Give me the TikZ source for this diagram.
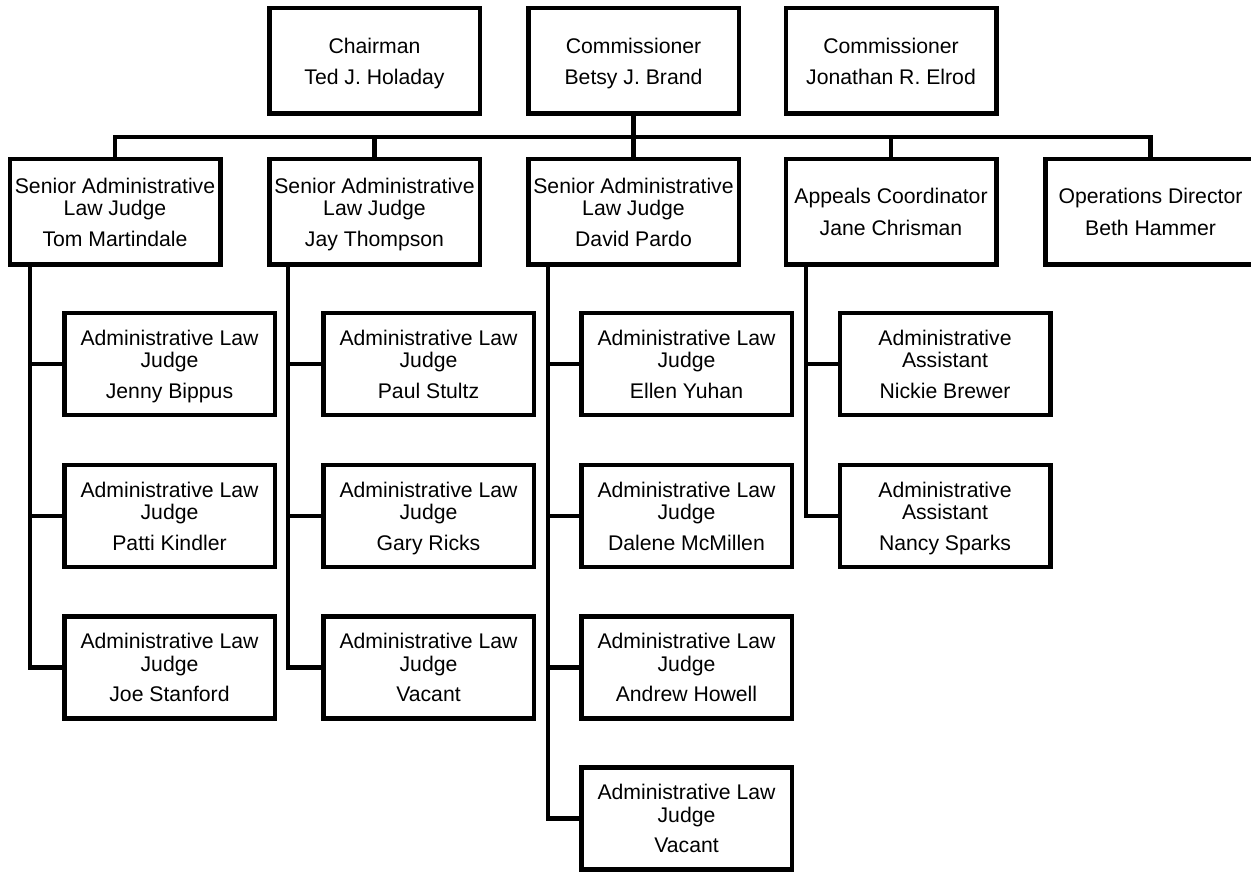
\documentclass[tikz,border=0pt]{standalone}
\usepackage{fontspec}
\setmainfont{Liberation Sans}
\begin{document}
\begin{tikzpicture}[x=1pt,y=-1pt,
  box/.style={draw, line width=4.5pt, minimum width=210.5pt, minimum height=105.5pt,
    inner sep=0pt, align=center, font=\fontsize{21.2}{22.5}\selectfont, text depth=0pt},
  cbox/.style={box, minimum height=102pt},
  link/.style={line width=4.5pt}]
\useasboundingbox (0,0) rectangle (1251,874);

% top row
\node[box] (chair) at (374.5,61) {Chairman\\[8.5pt]Ted J. Holaday};
\node[box] (betsy) at (633.5,61) {Commissioner\\[8.5pt]Betsy J. Brand};
\node[box] (jon)   at (891,61)   {Commissioner\\[8.5pt]Jonathan R. Elrod};

% second row
\node[box] (tom)   at (115,212)   {Senior Administrative\\Law Judge\\[8pt]Tom Martindale};
\node[box] (jay)   at (374.5,212) {Senior Administrative\\Law Judge\\[8pt]Jay Thompson};
\node[box] (david) at (633.5,212) {Senior Administrative\\Law Judge\\[8pt]David Pardo};
\node[box] (jane)  at (891,212)   {Appeals Coordinator\\[9.5pt]Jane Chrisman};
\node[box] (beth)  at (1150.5,212) {Operations Director\\[9.5pt]Beth Hammer};

% children of Tom
\node[cbox] (jenny) at (169.5,364)   {Administrative Law\\Judge\\[8pt]Jenny Bippus};
\node[cbox] (patti) at (169.5,516)   {Administrative Law\\Judge\\[8pt]Patti Kindler};
\node[cbox] (joe)   at (169.5,667.5) {Administrative Law\\Judge\\[8pt]Joe Stanford};

% children of Jay
\node[cbox] (paul)  at (428.5,364)   {Administrative Law\\Judge\\[8pt]Paul Stultz};
\node[cbox] (gary)  at (428.5,516)   {Administrative Law\\Judge\\[8pt]Gary Ricks};
\node[cbox] (vacj)  at (428.5,667.5) {Administrative Law\\Judge\\[8pt]Vacant};

% children of David
\node[cbox] (ellen)  at (686.5,364)   {Administrative Law\\Judge\\[8pt]Ellen Yuhan};
\node[cbox] (dalene) at (686.5,516)   {Administrative Law\\Judge\\[8pt]Dalene McMillen};
\node[cbox] (andrew) at (686.5,667.5) {Administrative Law\\Judge\\[8pt]Andrew Howell};
\node[cbox] (vacd)   at (686.5,818.5) {Administrative Law\\Judge\\[8pt]Vacant};

% children of Jane
\node[cbox] (nickie) at (945,364) {Administrative\\Assistant\\[8pt]Nickie Brewer};
\node[cbox] (nancy)  at (945,516) {Administrative\\Assistant\\[8pt]Nancy Sparks};

% bus
\coordinate (bus) at (0,137);
\draw[link] (tom.north) -- (tom.north |- bus) -- (beth.north |- bus) -- (beth.north);
\draw[link] (betsy.south) -- (betsy.south |- bus);
\draw[link] (jay.north) -- (jay.north |- bus);
\draw[link] (david.north) -- (david.north |- bus);
\draw[link] (jane.north) -- (jane.north |- bus);

% branch spines
\coordinate (tv) at (30,0);
\coordinate (jv) at (288,0);
\coordinate (dv) at (548,0);
\coordinate (av) at (806,0);

\draw[link] (tv |- tom.south) -- (tv |- joe.west) -- (joe.west);
\draw[link] (tv |- jenny.west) -- (jenny.west);
\draw[link] (tv |- patti.west) -- (patti.west);

\draw[link] (jv |- jay.south) -- (jv |- vacj.west) -- (vacj.west);
\draw[link] (jv |- paul.west) -- (paul.west);
\draw[link] (jv |- gary.west) -- (gary.west);

\draw[link] (dv |- david.south) -- (dv |- vacd.west) -- (vacd.west);
\draw[link] (dv |- ellen.west) -- (ellen.west);
\draw[link] (dv |- dalene.west) -- (dalene.west);
\draw[link] (dv |- andrew.west) -- (andrew.west);

\draw[link] (av |- jane.south) -- (av |- nancy.west) -- (nancy.west);
\draw[link] (av |- nickie.west) -- (nickie.west);
\end{tikzpicture}
\end{document}
